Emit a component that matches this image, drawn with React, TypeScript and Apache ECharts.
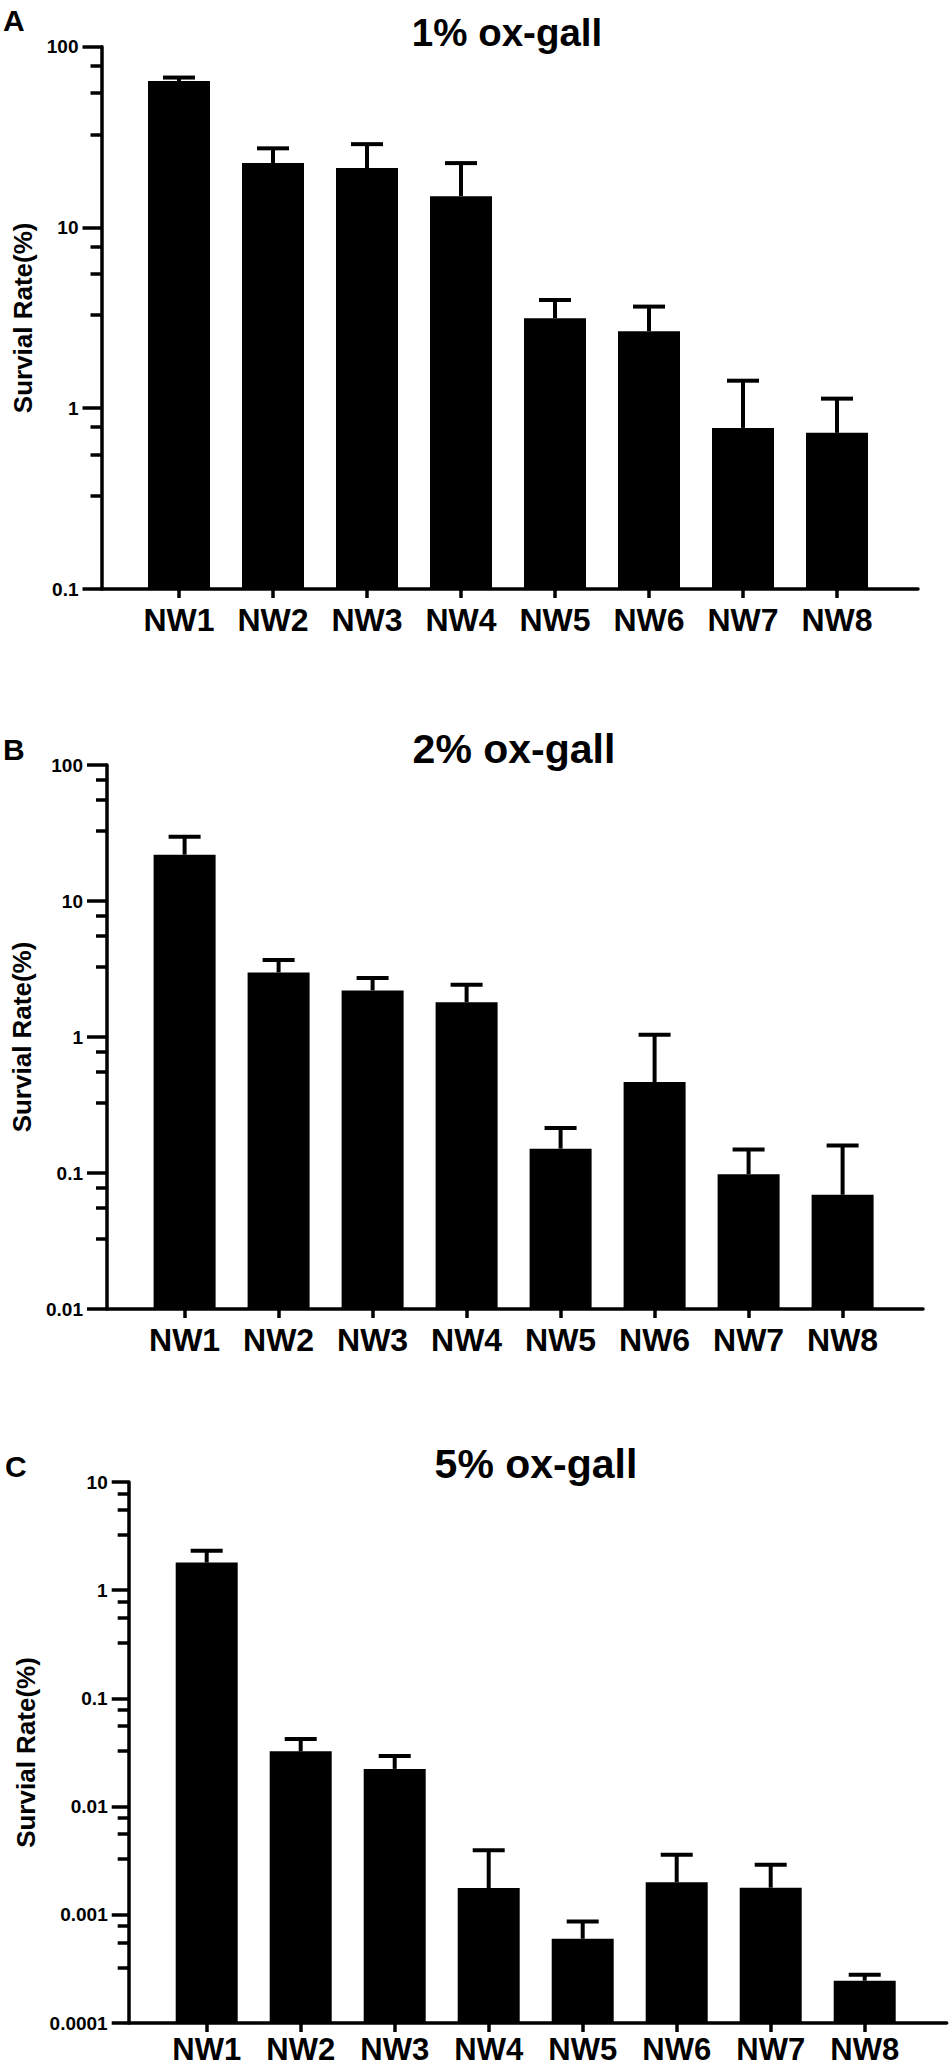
import React, { useEffect, useRef } from "react";
import * as echarts from "echarts";

// ---------- data ----------
const categories = ["NW1", "NW2", "NW3", "NW4", "NW5", "NW6", "NW7", "NW8"];

const titles = ["1% ox-gall", "2% ox-gall", "5% ox-gall"];
const panelLetters = ["A", "B", "C"];
const yAxisTitle = "Survial Rate(%)";

// Panel A: 1% ox-gall
const meanA = [64.6, 22.7, 21.3, 14.9, 3.15, 2.67, 0.778, 0.731];
const upperA = [67.5, 27.4, 28.9, 22.7, 3.97, 3.65, 1.42, 1.13];
// Panel B: 2% ox-gall
const meanB = [21.9, 2.98, 2.2, 1.8, 0.151, 0.466, 0.098, 0.0692];
const upperB = [29.7, 3.68, 2.72, 2.42, 0.214, 1.04, 0.149, 0.159];
// Panel C: 5% ox-gall
const meanC = [1.8, 0.0324, 0.0223, 0.00177, 0.000601, 0.002, 0.00178, 0.000246];
const upperC = [2.32, 0.0422, 0.0293, 0.00395, 0.000865, 0.00359, 0.0029, 0.000279];

// axis ranges
const yMin = [0.1, 0.01, 0.0001];
const yMax = [100, 100, 10];
// minor tick positions inside each decade (fraction of decade top)
const minorFactors = [0.785, 0.556, 0.327];

const means = [meanA, meanB, meanC];
const uppers = [upperA, upperB, upperC];

// ---------- layout / style ----------
const FONT = "'Liberation Sans', Arial, Helvetica, sans-serif";
const BAND = 94;
const layouts = [
  { axisLeft: 101.5, axisRight: 918, top: 46.7, bottom: 589, firstCenter: 179, tickLen: 19, labelMargin: 23, nameGap: 55, titleX: 507, titleY: 32.5, titleSize: 38.5, letterX: 3, letterY: 20, catSize: 32, catMargin: 19 },
  { axisLeft: 107, axisRight: 923, top: 765, bottom: 1309, firstCenter: 184.6, tickLen: 20, labelMargin: 24, nameGap: 61, titleX: 514, titleY: 749, titleSize: 41, letterX: 3, letterY: 749, catSize: 32, catMargin: 19 },
  { axisLeft: 128.7, axisRight: 946.7, top: 1482, bottom: 2023, firstCenter: 206.7, tickLen: 17, labelMargin: 21, nameGap: 83, titleX: 536, titleY: 1464, titleSize: 41, letterX: 5, letterY: 1466, catSize: 31, catMargin: 14 },
];

function minorValues(min: number, max: number) {
  const out: number[] = [];
  for (let top = max; top > min * 1.0001; top /= 10) {
    minorFactors.forEach((f) => out.push(+(top * f).toPrecision(6)));
  }
  return out;
}

function buildOption() {
  const grid: any[] = [];
  const xAxis: any[] = [];
  const yAxis: any[] = [];
  const series: any[] = [];

  layouts.forEach((L, p) => {
    const h = L.bottom - L.top;
    const gAxis = grid.length;
    grid.push({ left: L.axisLeft, top: L.top, width: L.axisRight - L.axisLeft, height: h, containLabel: false });
    const gBar = grid.length;
    grid.push({ left: L.firstCenter - BAND / 2, top: L.top, width: BAND * categories.length, height: h, containLabel: false });

    // axis grid: visible x axis line
    xAxis.push({
      type: "value", gridIndex: gAxis, min: 0, max: 1,
      axisLine: { show: true, onZero: false, lineStyle: { color: "#000", width: 3.5 } },
      axisTick: { show: false }, axisLabel: { show: false }, splitLine: { show: false },
    });
    // major y axis
    yAxis.push({
      type: "log", logBase: 10, gridIndex: gAxis, min: yMin[p], max: yMax[p], position: "left",
      name: yAxisTitle, nameLocation: "middle", nameGap: L.nameGap, nameRotate: 90,
      nameTextStyle: { fontSize: 26, fontWeight: "bold", color: "#000", fontFamily: FONT },
      axisLine: { show: true, lineStyle: { color: "#000", width: 3.5 } },
      axisTick: { show: true, length: L.tickLen, lineStyle: { color: "#000", width: 3.5 } },
      axisLabel: {
        show: true, margin: L.labelMargin, fontSize: 19, fontWeight: "bold", color: "#000", fontFamily: FONT,
        formatter: (v: number) => String(+Number(v).toPrecision(6)),
      },
      splitLine: { show: false },
    });
    // minor ticks
    yAxis.push({
      type: "log", logBase: 10, gridIndex: gAxis, min: yMin[p], max: yMax[p], position: "left", offset: 0,
      axisLine: { show: false },
      axisTick: { show: true, length: 11, lineStyle: { color: "#000", width: 3.5 }, customValues: minorValues(yMin[p], yMax[p]) },
      axisLabel: { show: false }, splitLine: { show: false },
    });

    // bar grid
    const xCatIdx = xAxis.length;
    xAxis.push({
      type: "category", gridIndex: gBar, data: categories, boundaryGap: true,
      axisLine: { show: false },
      axisTick: { show: true, alignWithLabel: true, length: 9, lineStyle: { color: "#000", width: 3.5 } },
      axisLabel: { show: true, margin: L.catMargin, fontSize: L.catSize, lineHeight: 24, fontWeight: "bold", color: "#000", fontFamily: FONT, interval: 0 },
      splitLine: { show: false },
    });
    const yBarIdx = yAxis.length;
    yAxis.push({
      type: "log", logBase: 10, gridIndex: gBar, min: yMin[p], max: yMax[p], startValue: yMin[p], show: false,
    });

    series.push({
      type: "bar", xAxisIndex: xCatIdx, yAxisIndex: yBarIdx, barWidth: 62,
      itemStyle: { color: "#000" }, data: means[p], silent: true,
    });
    series.push({
      type: "custom", xAxisIndex: xCatIdx, yAxisIndex: yBarIdx, silent: true,
      encode: { x: 0, y: [1, 2] },
      data: means[p].map((m, i) => [i, m, uppers[p][i]]),
      renderItem: (params: any, api: any) => {
        const i = api.value(0);
        const p0 = api.coord([i, api.value(1)]);
        const p1 = api.coord([i, api.value(2)]);
        const style = { stroke: "#000", lineWidth: 4 };
        return {
          type: "group",
          children: [
            { type: "line", shape: { x1: p0[0], y1: p0[1], x2: p1[0], y2: p1[1] }, style },
            { type: "line", shape: { x1: p1[0] - 16, y1: p1[1], x2: p1[0] + 16, y2: p1[1] }, style },
          ],
        };
      },
      z: 1,
    });
  });

  const graphic: any[] = [];
  layouts.forEach((L, p) => {
    graphic.push({
      type: "text", x: L.titleX, y: L.titleY, silent: true,
      style: { text: titles[p], fontSize: L.titleSize, fontWeight: "bold", fontFamily: FONT, fill: "#000", align: "center", verticalAlign: "middle" },
    });
    graphic.push({
      type: "text", x: L.letterX, y: L.letterY, silent: true,
      style: { text: panelLetters[p], fontSize: 30, fontWeight: "bold", fontFamily: FONT, fill: "#000", align: "left", verticalAlign: "middle" },
    });
  });

  return {
    animation: false,
    backgroundColor: "#fff",
    textStyle: { fontFamily: FONT },
    grid, xAxis, yAxis, series, graphic,
  };
}

export default function App() {
  const ref = useRef<HTMLDivElement>(null);
  useEffect(() => {
    if (!ref.current) return;
    const chart = echarts.init(ref.current, undefined, { renderer: "svg" });
    chart.setOption(buildOption() as any);
    return () => chart.dispose();
  }, []);
  return (
    <div
      ref={ref}
      style={{ position: "absolute", left: 0, top: 0, width: 950, height: 2070, background: "#fff" }}
    />
  );
}
